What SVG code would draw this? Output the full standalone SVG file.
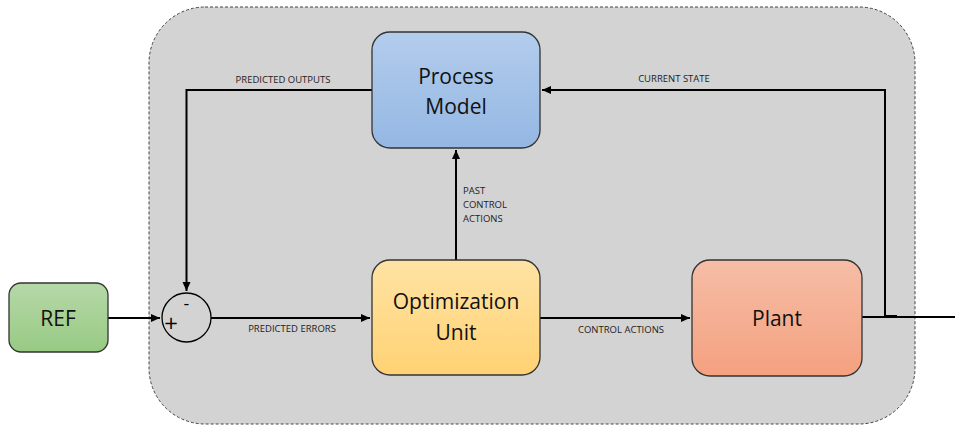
<svg xmlns="http://www.w3.org/2000/svg" width="955" height="426" viewBox="0 0 955 426">
<defs>
<linearGradient id="gBlue" x1="0" y1="0" x2="0" y2="1"><stop offset="0" stop-color="#b3cdec"/><stop offset="1" stop-color="#94b7e3"/></linearGradient>
<linearGradient id="gYel" x1="0" y1="0" x2="0" y2="1"><stop offset="0" stop-color="#ffe3a4"/><stop offset="1" stop-color="#ffd274"/></linearGradient>
<linearGradient id="gRed" x1="0" y1="0" x2="0" y2="1"><stop offset="0" stop-color="#f6bda6"/><stop offset="1" stop-color="#f4a180"/></linearGradient>
<linearGradient id="gGrn" x1="0" y1="0" x2="0" y2="1"><stop offset="0" stop-color="#b6d8a8"/><stop offset="1" stop-color="#98ca84"/></linearGradient>
<marker id="arr" markerWidth="10" markerHeight="10" refX="9" refY="5" orient="auto" markerUnits="userSpaceOnUse"><path d="M0,1 L9,5 L0,9 Z" fill="#000"/></marker>
</defs>
<style>
.box{stroke:#333;stroke-width:1.3}
.big{font-family:"Open Sans","Noto Sans",sans-serif;font-size:21px;fill:#111;text-anchor:middle}
.lbl{font-family:"Open Sans","Noto Sans",sans-serif;font-size:9.5px;fill:#222}
.ln{fill:none;stroke:#000;stroke-width:2}
.sign{font-family:"DejaVu Sans","Open Sans",sans-serif;fill:#000;text-anchor:middle}
</style>
<rect x="0" y="0" width="955" height="426" fill="#fff"/>
<g id="container">
<rect x="149" y="7" width="766" height="417" rx="56" ry="56" fill="#d3d3d3" stroke="#444" stroke-width="1" stroke-dasharray="3,2"/>
</g>
<g id="connectors">
<path class="ln" d="M372,90 H186.5 V291" marker-end="url(#arr)"/>
<path class="ln" d="M885,317 V90 H542" marker-end="url(#arr)"/>
<path class="ln" d="M456,260 V150" marker-end="url(#arr)"/>
<path class="ln" d="M108,318 H160" marker-end="url(#arr)"/>
<path class="ln" d="M211,318 H370" marker-end="url(#arr)"/>
<path class="ln" d="M540,318 H690" marker-end="url(#arr)"/>
<path class="ln" d="M862,317 H955"/>
<path class="ln" d="M885,316 H897"/>
<text class="lbl" x="283" y="83" text-anchor="middle">PREDICTED OUTPUTS</text>
<text class="lbl" x="674" y="82" text-anchor="middle">CURRENT STATE</text>
<text class="lbl" x="292" y="332" text-anchor="middle">PREDICTED ERRORS</text>
<text class="lbl" x="621" y="333" text-anchor="middle">CONTROL ACTIONS</text>
<text class="lbl" x="463" y="194">PAST</text>
<text class="lbl" x="463" y="208">CONTROL</text>
<text class="lbl" x="463" y="222">ACTIONS</text>
</g>
<g id="process-model">
<rect class="box" x="372" y="32" width="168" height="116" rx="18" fill="url(#gBlue)"/>
<text class="big" x="456" y="84">Process</text>
<text class="big" x="456" y="114">Model</text>
</g>
<g id="optimization-unit">
<rect class="box" x="372" y="260" width="168" height="115" rx="18" fill="url(#gYel)"/>
<text class="big" x="456" y="309">Optimization</text>
<text class="big" x="456" y="340">Unit</text>
</g>
<g id="plant">
<rect class="box" x="692" y="260" width="170" height="116" rx="18" fill="url(#gRed)"/>
<text class="big" x="777" y="326">Plant</text>
</g>
<g id="ref">
<rect class="box" x="9" y="283" width="99" height="69" rx="12" fill="url(#gGrn)"/>
<text class="big" x="58" y="326">REF</text>
</g>
<g id="sum">
<circle cx="186.5" cy="317.5" r="24.5" fill="none" stroke="#000" stroke-width="1.3"/>
<text class="sign" x="186.5" y="309" font-size="16">-</text>
<text class="sign" x="171" y="329" font-size="18">+</text>
</g>
</svg>
